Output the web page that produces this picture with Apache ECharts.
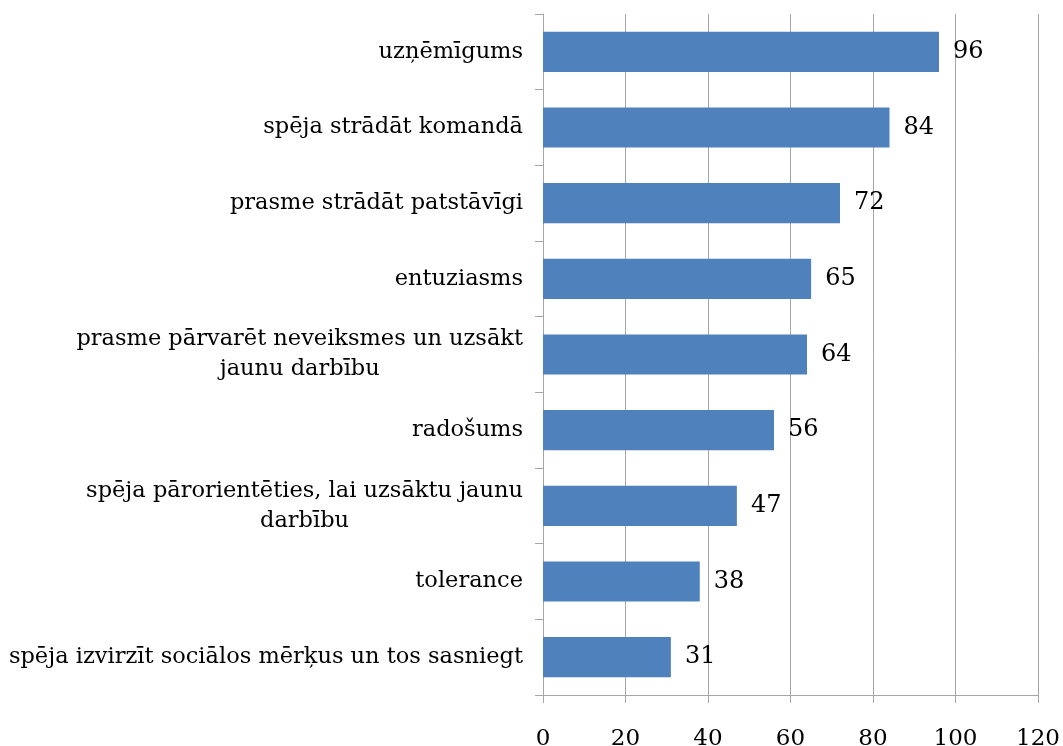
<!DOCTYPE html>
<html>
<head>
<meta charset="utf-8">
<script src="https://cdn.jsdelivr.net/npm/echarts@6/dist/echarts.min.js"></script>
<style>
  html, body { margin: 0; padding: 0; background: #fff; }
  #chart { width: 1063px; height: 746px; }
</style>
</head>
<body>
<div id="chart"></div>
<script>
// Data (top to bottom)
const categories = [
    'uzņēmīgums',
    'spēja strādāt komandā',
    'prasme strādāt patstāvīgi',
    'entuziasms',
    'prasme pārvarēt neveiksmes un uzsākt\njaunu darbību',
    'radošums',
    'spēja pārorientēties, lai uzsāktu jaunu\ndarbību',
    'tolerance',
    'spēja izvirzīt sociālos mērķus un tos sasniegt'
];
const values = [96, 84, 72, 65, 64, 56, 47, 38, 31];
const xTicks = [0, 20, 40, 60, 80, 100, 120];

const serif = '"DejaVu Serif", "Liberation Serif", serif';
const gridGray = '#a6a6a6';

const chart = echarts.init(document.getElementById('chart'));

const option = {
    animation: false,
    backgroundColor: '#fff',
    grid: {
        left: 543,
        right: 25,
        top: 14,
        bottom: 51,
        containLabel: false,
        outerBoundsMode: 'none'
    },
    xAxis: {
        type: 'value',
        min: xTicks[0],
        max: xTicks[xTicks.length - 1],
        interval: 20,
        axisLine: { show: true, lineStyle: { color: gridGray, width: 1 } },
        axisTick: { show: true, length: 8, lineStyle: { color: gridGray } },
        splitLine: { show: true, lineStyle: { color: gridGray, width: 1 } },
        axisLabel: {
            margin: 33,
            color: '#000',
            fontFamily: serif,
            fontSize: 23
        }
    },
    yAxis: {
        type: 'category',
        inverse: true,
        data: categories,
        axisLine: { show: true, lineStyle: { color: gridGray, width: 1 } },
        axisTick: { show: true, length: 8, lineStyle: { color: gridGray } },
        splitLine: { show: false },
        axisLabel: {
            margin: 20,
            align: 'right',
            formatter: function (val) {
                return val.split('\n').map(line => '{c|' + line + '}').join('\n');
            },
            rich: {
                c: {
                    align: 'center',
                    color: '#000',
                    fontFamily: serif,
                    fontSize: 22.5,
                    lineHeight: 30
                }
            }
        }
    },
    series: [
        {
            type: 'bar',
            data: values,
            barCategoryGap: '47%',
            itemStyle: { color: '#4f81bd' },
            label: {
                show: true,
                position: 'right',
                distance: 14,
                color: '#000',
                fontFamily: serif,
                fontSize: 24
            }
        }
    ]
};

chart.setOption(option);
window.addEventListener('resize', () => chart.resize());
</script>
</body>
</html>
